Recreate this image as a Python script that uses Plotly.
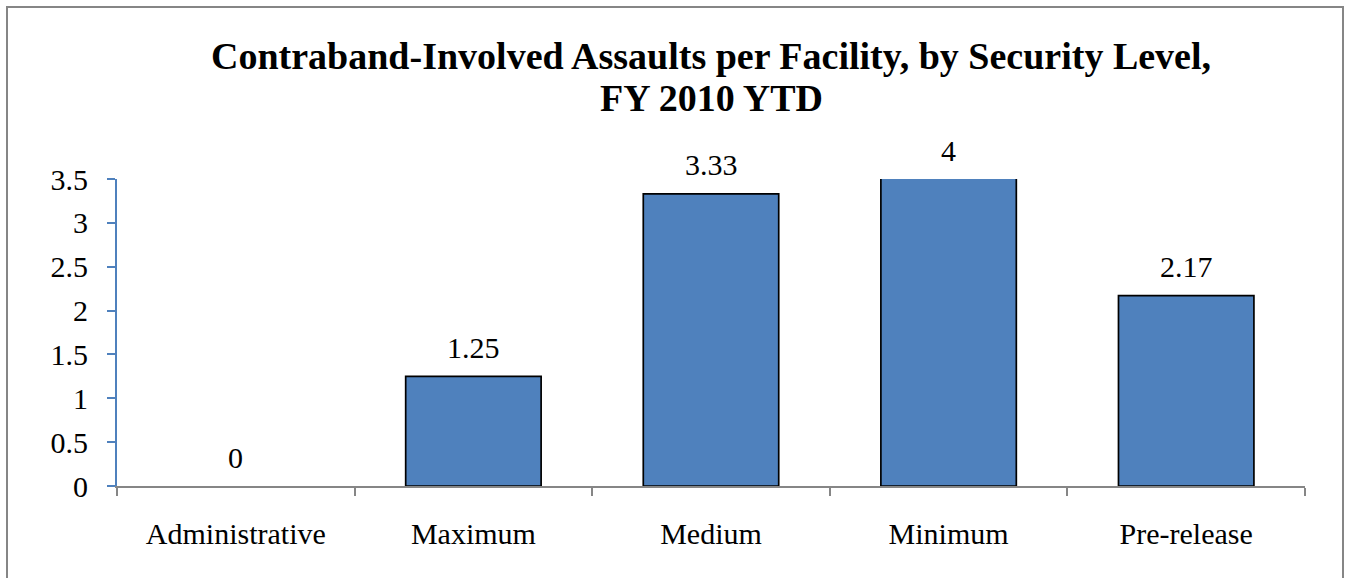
import plotly.graph_objects as go

categories = ["Administrative", "Maximum", "Medium", "Minimum", "Pre-release"]
values = [0, 1.25, 3.33, 4, 2.17]
value_labels = ["0", "1.25", "3.33", "4", "2.17"]
y_ticks = [0, 0.5, 1, 1.5, 2, 2.5, 3, 3.5]
y_tick_labels = ["0", "0.5", "1", "1.5", "2", "2.5", "3", "3.5"]
title_lines = ["Contraband-Involved Assaults per Facility, by Security Level,", "FY 2010 YTD"]

Y_MAX = 3.5
FONT = "Liberation Serif, Times New Roman, serif"
BAR_COLOR = "#4F81BD"
GRAY = "#868686"

W, H = 1351, 578
L, R, T, B = 117, 46, 179, 92

fig = go.Figure()
fig.add_trace(go.Bar(
    x=categories, y=values,
    marker=dict(color=BAR_COLOR,
                line=dict(color="#000000", width=[0 if v == 0 else 1.7 for v in values])),
    hoverinfo="x+y",
))

for c, v, lab in zip(categories, values, value_labels):
    fig.add_annotation(
        x=c, y=min(v, Y_MAX), text=lab, showarrow=False,
        xref="x", yref="y", yanchor="middle", yshift=29,
        font=dict(family=FONT, size=30, color="#000000"),
    )

plot_h = H - T - B
plot_w = W - L - R
fig.add_annotation(
    x=0.5, y=(H - B - 56) / plot_h, xref="paper", yref="paper",
    text="<b>" + title_lines[0] + "</b>", showarrow=False, yanchor="middle",
    font=dict(family=FONT, size=38, color="#000000"),
)
fig.add_annotation(
    x=0.5, y=(H - B - 98) / plot_h, xref="paper", yref="paper",
    text="<b>" + title_lines[1] + "</b>", showarrow=False, yanchor="middle",
    font=dict(family=FONT, size=38, color="#000000"),
)

# outer chart border
fig.add_shape(
    type="rect", xref="paper", yref="paper",
    x0=(7 - L) / plot_w, x1=(1343 - L) / plot_w,
    y0=(H - B - 600) / plot_h, y1=(H - B - 7) / plot_h,
    line=dict(color=GRAY, width=2), fillcolor="rgba(0,0,0,0)", layer="below",
)

fig.update_layout(
    width=W, height=H,
    margin=dict(l=L, r=R, t=T, b=B, pad=0),
    paper_bgcolor="white", plot_bgcolor="white",
    bargap=0.43, showlegend=False,
    font=dict(family=FONT, size=30, color="#000000"),
)
fig.update_xaxes(
    type="category", showgrid=False, zeroline=False,
    showline=True, linecolor=GRAY, linewidth=2,
    ticks="outside", tickson="boundaries", ticklen=8, tickcolor=GRAY, tickwidth=2,
    tickfont=dict(family=FONT, size=30, color="#000000"),
    ticklabelstandoff=20,
)
fig.update_yaxes(
    range=[0, Y_MAX], showgrid=False, zeroline=False,
    showline=True, linecolor=BAR_COLOR, linewidth=2,
    ticks="outside", ticklen=8, tickcolor=BAR_COLOR, tickwidth=2,
    tickmode="array", tickvals=y_ticks, ticktext=y_tick_labels,
    tickfont=dict(family=FONT, size=30, color="#000000"),
    ticklabelstandoff=13,
)

fig.write_html(
    "out.html",
    config={"displayModeBar": False},
    post_script="document.body.style.margin='0';document.body.style.overflow='hidden';",
)
